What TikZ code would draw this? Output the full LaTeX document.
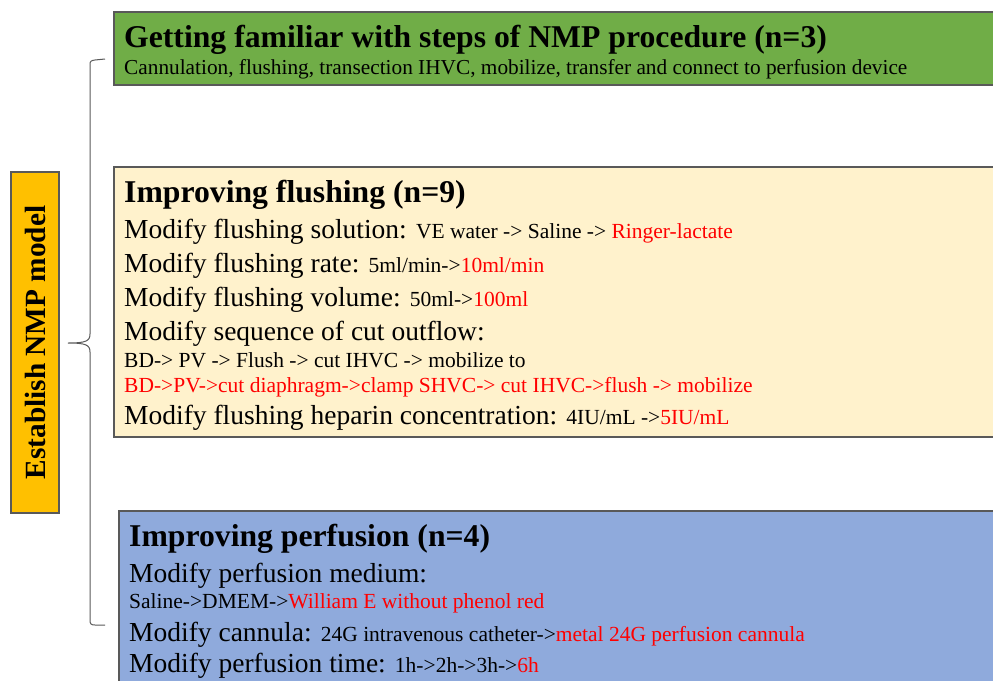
\documentclass[tikz,border=0pt]{standalone}
\usepackage{fontspec}
\setmainfont{Liberation Serif}
\definecolor{gfill}{HTML}{70AD47}
\definecolor{yfill}{HTML}{FFF2CC}
\definecolor{bfill}{HTML}{8FAADC}
\definecolor{ofill}{HTML}{FFC000}
\definecolor{rtxt}{HTML}{FF0000}
\definecolor{edgec}{HTML}{595959}
\newcommand\smt{\fontsize{21.5}{21.5}\selectfont}
\newcommand\redt[1]{\textcolor{rtxt}{#1}}
\begin{document}
\begin{tikzpicture}[x=1pt,y=-1pt,
  panel/.style={draw=edgec, line width=1.3pt, anchor=north west, inner sep=0pt, outer sep=0pt},
  ttl/.style={anchor=base west, inner sep=0pt, font=\fontsize{31.7}{31.7}\selectfont\bfseries},
  modl/.style={anchor=base west, inner sep=0pt, font=\fontsize{27.5}{27.5}\selectfont},
  sml/.style={anchor=base west, inner sep=0pt, font=\smt},
  subl/.style={anchor=base west, inner sep=0pt, font=\fontsize{21.3}{21.3}\selectfont},
  bracel/.style={draw=edgec, line width=1pt}]
\useasboundingbox (0,0) rectangle (993,680);
\clip (0,0) rectangle (993,680);
% panels
\node[panel, fill=gfill, minimum width=900pt, minimum height=73pt] (green) at (114,12) {};
\node[panel, fill=yfill, minimum width=900pt, minimum height=270pt] (cream) at (114,167) {};
\node[panel, fill=bfill, minimum width=900pt, minimum height=200pt] (blue) at (119,511) {};
\node[panel, fill=ofill, minimum width=48pt, minimum height=341pt] (orange) at (11,172) {};
\node[rotate=90, inner sep=0pt, font=\fontsize{29.3}{29.3}\selectfont\bfseries] (olabel) at (orange.center) {Establish NMP model};
% green texts
\node[ttl] (g1) at (124,47) {Getting familiar with steps of NMP procedure (n=3)};
\node[subl] (g2) at (124,74) {Cannulation, flushing, transection IHVC, mobilize, transfer and connect to perfusion device};
% cream texts
\node[ttl] (c0) at (124,202) {Improving flushing (n=9)};
\node[modl] (c1) at (124,238) {Modify flushing solution: {\smt VE water -> Saline -> \redt{Ringer-lactate}}};
\node[modl] (c2) at (124,272) {Modify flushing rate: {\smt 5ml/min->\redt{10ml/min}}};
\node[modl] (c3) at (124,306) {Modify flushing volume: {\smt 50ml->\redt{100ml}}};
\node[modl] (c4) at (124,340) {Modify sequence of cut outflow:};
\node[sml] (c5) at (124,367) {BD-> PV -> Flush -> cut IHVC -> mobilize to};
\node[sml, text=rtxt] (c6) at (124,392) {BD->PV->cut diaphragm->clamp SHVC-> cut IHVC->flush -> mobilize};
\node[modl] (c7) at (124,424) {Modify flushing heparin concentration: {\smt 4IU/mL ->\redt{5IU/mL}}};
% blue texts
\node[ttl] (b0) at (129,546) {Improving perfusion (n=4)};
\node[modl] (b1) at (129,582) {Modify perfusion medium:};
\node[sml] (b2) at (129,608) {Saline->DMEM->\redt{William E without phenol red}};
\node[modl] (b3) at (129,641) {Modify cannula: {\smt 24G intravenous catheter->\redt{metal 24G perfusion cannula}}};
\node[modl] (b4) at (129,672) {Modify perfusion time: {\smt 1h->2h->3h->\redt{6h}}};
% brace
\coordinate (bt) at (105,59);
\coordinate (bb) at (105,625);
\coordinate (btip) at (68,343);
\draw[bracel] (bt) -- (95,60) .. controls (91,60.5) and (90,61) .. (90,65)
  -- (90,334) .. controls (90,341) and (86,343) .. (btip)
  .. controls (86,343) and (90,345) .. (90,352)
  -- (90,620) .. controls (90,624) and (91,625) .. (95,625) -- (bb);
\end{tikzpicture}
\end{document}
